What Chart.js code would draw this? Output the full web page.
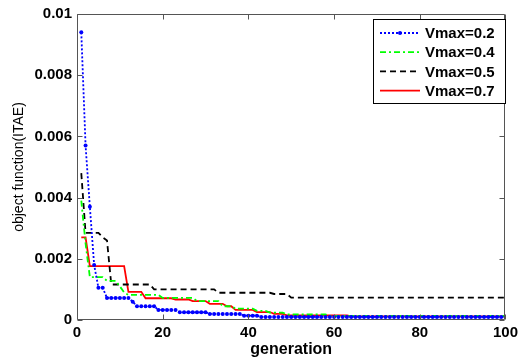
<!DOCTYPE html>
<html><head><meta charset="utf-8">
<script src="https://cdn.jsdelivr.net/npm/chart.js@4/dist/chart.umd.min.js"></script>
<style>html,body{margin:0;padding:0;background:#fff}#c{display:block}</style>
</head><body>
<canvas id="c" width="522" height="362" style="width:522px;height:362px"></canvas>
<script>
const generation = [
 1,2,3,4,5,6,7,8,9,10,11,12,13,14,15,16,17,18,19,20,
 21,22,23,24,25,26,27,28,29,30,31,32,33,34,35,36,37,38,39,40,
 41,42,43,44,45,46,47,48,49,50,51,52,53,54,55,56,57,58,59,60,
 61,62,63,64,65,66,67,68,69,70,71,72,73,74,75,76,77,78,79,80,
 81,82,83,84,85,86,87,88,89,90,91,92,93,94,95,96,97,98,99,100];

const vmax02 = [
 0.0094,0.0057,0.0037,0.0018,0.00105,0.00105,0.00072,0.00072,0.00072,0.00072,
 0.00072,0.00072,0.0006,0.00045,0.00045,0.00045,0.00045,0.00045,0.00033,0.00033,
 0.00033,0.00033,0.00033,0.00025,0.00025,0.00025,0.00025,0.00025,0.00025,0.00025,
 0.0002,0.0002,0.0002,0.0002,0.0002,0.0002,0.0002,0.0002,0.00014,0.00014,
 0.00014,0.00014,0.0001,0.0001,0.0001,0.0001,0.0001,0.0001,0.0001,0.0001,
 0.0001,0.0001,0.0001,0.0001,0.0001,0.0001,0.0001,0.0001,0.0001,0.0001,
 0.0001,0.0001,0.0001,0.0001,0.0001,0.0001,0.0001,0.0001,0.0001,0.0001,
 0.0001,0.0001,0.0001,0.0001,0.0001,0.0001,0.0001,0.0001,0.0001,0.0001,
 0.0001,0.0001,0.0001,0.0001,0.0001,0.0001,0.0001,0.0001,0.0001,0.0001,
 0.0001,0.0001,0.0001,0.0001,0.0001,0.0001,0.0001,0.0001,0.0001,0.0001];

const vmax04 = [
 0.0039,0.0025,0.0014,0.0014,0.0014,0.0014,0.00128,0.00128,0.00128,0.0011,
 0.0009,0.00082,0.00082,0.00082,0.00082,0.00082,0.00082,0.00082,0.00082,0.00072,
 0.00072,0.00072,0.00072,0.00072,0.00072,0.00072,0.00072,0.00062,0.00062,0.00062,
 0.00062,0.00062,0.00062,0.00045,0.00045,0.00045,0.00037,0.00037,0.00037,0.00037,
 0.00037,0.0003,0.0003,0.0003,0.00024,0.00024,0.00024,0.00024,0.00018,0.00018,
 0.00018,0.00018,0.00018,0.00018,0.00018,0.00018,0.00018,0.00018,0.00013,0.00013,
 0.00013,0.00013,0.00013,0.00013,0.00013,0.00013,0.00013,0.00013,0.00013,0.00013,
 0.00013,0.00013,0.00013,0.00013,0.00013,0.00013,0.00013,0.00013,0.00013,0.00013,
 0.00013,0.00013,0.00013,0.00013,0.00013,0.00013,0.00013,0.00013,0.00013,0.00013,
 0.00013,0.00013,0.00013,0.00013,0.00013,0.00013,0.00013,0.00013,0.00013,0.00013];

const vmax05 = [
 0.0048,0.00285,0.00285,0.00285,0.00285,0.0027,0.0026,0.00116,0.00116,0.00116,
 0.00116,0.00116,0.00116,0.00116,0.00116,0.00116,0.00116,0.001,0.001,0.001,
 0.001,0.001,0.001,0.001,0.001,0.001,0.001,0.001,0.001,0.001,
 0.001,0.001,0.00089,0.00089,0.00089,0.00089,0.00089,0.00089,0.00089,0.00089,
 0.00089,0.00089,0.00089,0.00089,0.00089,0.00085,0.00085,0.00085,0.00085,0.00073,
 0.00073,0.00073,0.00073,0.00073,0.00073,0.00073,0.00073,0.00073,0.00073,0.00073,
 0.00073,0.00073,0.00073,0.00073,0.00073,0.00073,0.00073,0.00073,0.00073,0.00073,
 0.00073,0.00073,0.00073,0.00073,0.00073,0.00073,0.00073,0.00073,0.00073,0.00073,
 0.00073,0.00073,0.00073,0.00073,0.00073,0.00073,0.00073,0.00073,0.00073,0.00073,
 0.00073,0.00073,0.00073,0.00073,0.00073,0.00073,0.00073,0.00073,0.00073,0.00073];

const vmax07 = [
 0.0027,0.0027,0.00176,0.00176,0.00176,0.00176,0.00176,0.00176,0.00176,0.00176,
 0.00176,0.00092,0.00092,0.00092,0.00092,0.00071,0.00071,0.00071,0.00071,0.00071,
 0.00071,0.00071,0.00067,0.00067,0.00067,0.00067,0.00062,0.00062,0.00062,0.00062,
 0.00053,0.00053,0.00053,0.00053,0.00045,0.00045,0.00033,0.00033,0.00033,0.00033,
 0.00033,0.00026,0.00026,0.00026,0.00026,0.0002,0.0002,0.0002,0.00015,0.00015,
 0.00015,0.00015,0.00015,0.00015,0.00015,0.00015,0.00015,0.00015,0.00015,0.00015,
 0.00015,0.00015,0.00015,0.00012,0.00012,0.00012,0.00012,0.00012,0.00012,0.00012,
 0.00012,0.00012,0.00012,0.00012,0.00012,0.00012,0.00012,0.00012,0.00012,0.00012,
 0.00012,0.00012,0.00012,0.00012,0.00012,0.00012,0.00012,0.00012,0.00012,0.00012,
 0.00012,0.00012,0.00012,0.00012,0.00012,0.00012,0.00012,0.00012,0.00012,0.00012];

const seriesLabels = ['Vmax=0.2','Vmax=0.4','Vmax=0.5','Vmax=0.7'];
const xTickLabels = ['0','20','40','60','80','100'];
const yTickLabels = ['0','0.002','0.004','0.006','0.008','0.01'];

const pts = vals => vals.map((v,i)=>({x:generation[i], y:v}));
const FONT = '"Liberation Sans", Arial, sans-serif';

const frame = {
  id:'frame',
  afterDraw(chart){
    const {ctx, chartArea:a, scales:{x,y}} = chart;
    ctx.save();
    ctx.strokeStyle = '#555'; ctx.lineWidth = 1;
    const L = Math.round(a.left)+0.5, R = Math.round(a.right)-0.5, T = Math.round(a.top)+0.5, B = Math.round(a.bottom)-0.5;
    ctx.beginPath();
    ctx.rect(L, T, R-L, B-T);
    x.ticks.forEach(t=>{
      const p = Math.round(x.getPixelForValue(t.value))+0.5;
      ctx.moveTo(p,B); ctx.lineTo(p,B-5);
      ctx.moveTo(p,T); ctx.lineTo(p,T+5);
    });
    y.ticks.forEach(t=>{
      const p = Math.round(y.getPixelForValue(t.value))+0.5;
      ctx.moveTo(L,p); ctx.lineTo(L+5,p);
      ctx.moveTo(R,p); ctx.lineTo(R-5,p);
    });
    ctx.stroke();
    // legend
    const bx = 373.5, by = 19.5, bw = 132, bh = 84;
    ctx.fillStyle = '#fff';
    ctx.fillRect(bx, by, bw, bh);
    ctx.strokeStyle = '#000';
    ctx.strokeRect(bx, by, bw, bh);
    chart.data.datasets.forEach((ds,i)=>{
      const yy = 33 + i*19.2;
      ctx.save();
      ctx.strokeStyle = ds.borderColor; ctx.lineWidth = ds.borderWidth;
      ctx.setLineDash(ds.borderDash || []);
      ctx.beginPath(); ctx.moveTo(380, yy); ctx.lineTo(420, yy); ctx.stroke();
      if (ds.pointRadius > 0) {
        ctx.setLineDash([]);
        ctx.fillStyle = ds.pointBackgroundColor;
        ctx.beginPath(); ctx.arc(400, yy, ds.pointRadius, 0, Math.PI*2); ctx.fill();
      }
      ctx.restore();
      ctx.fillStyle = '#000';
      ctx.font = 'bold 15px ' + FONT;
      ctx.textBaseline = 'middle';
      ctx.textAlign = 'left';
      ctx.fillText(ds.label, 425, yy+1);
    });
    ctx.restore();
  }
};

new Chart(document.getElementById('c'), {
  type:'line',
  data:{datasets:[
    {label:seriesLabels[0], data:pts(vmax02), borderColor:'#0000ff', borderWidth:1.8, borderDash:[2,2],
     pointRadius:2, pointBackgroundColor:'#0000ff', pointBorderWidth:0, pointStyle:'circle'},
    {label:seriesLabels[1], data:pts(vmax04), borderColor:'#00ff00', borderWidth:1.8, borderDash:[6,3,2,3], pointRadius:0},
    {label:seriesLabels[2], data:pts(vmax05), borderColor:'#000000', borderWidth:1.8, borderDash:[6,4], pointRadius:0},
    {label:seriesLabels[3], data:pts(vmax07), borderColor:'#ff0000', borderWidth:1.8, pointRadius:0}
  ]},
  options:{
    responsive:false, animation:false, devicePixelRatio:1,
    layout:{padding:{top:14, right:13, left:0, bottom:0}},
    plugins:{legend:{display:false}, tooltip:{enabled:false}},
    elements:{line:{tension:0}},
    scales:{
      x:{type:'linear', min:0, max:100,
         afterFit(s){ s.height = 42; },
         afterBuildTicks(s){ s.ticks = xTickLabels.map(v=>({value:+v})); },
         grid:{display:false, drawTicks:false}, border:{display:false},
         ticks:{padding:4, color:'#000', font:{family:FONT, size:15, weight:'bold'}, callback:(v)=>xTickLabels[xTickLabels.indexOf(String(v))] ?? String(v)},
         title:{display:true, text:'generation', color:'#000', padding:{top:0,bottom:3}, font:{family:FONT, size:16, weight:'bold'}}},
      y:{type:'linear', min:0, max:0.01,
         afterFit(s){ s.width = 77; },
         afterBuildTicks(s){ s.ticks = yTickLabels.map(v=>({value:+v})); },
         grid:{display:false, drawTicks:false}, border:{display:false},
         ticks:{padding:5, color:'#000', font:{family:FONT, size:15, weight:'bold'},
                callback:(v)=>{ const m = yTickLabels.find(t=>Math.abs(+t - v) < 1e-9); return m ?? String(v); }},
         title:{display:true, text:'object function(ITAE)', color:'#000', padding:{top:11,bottom:0}, font:{family:FONT, size:14}}}
    }
  },
  plugins:[frame]
});
</script>
</body></html>
